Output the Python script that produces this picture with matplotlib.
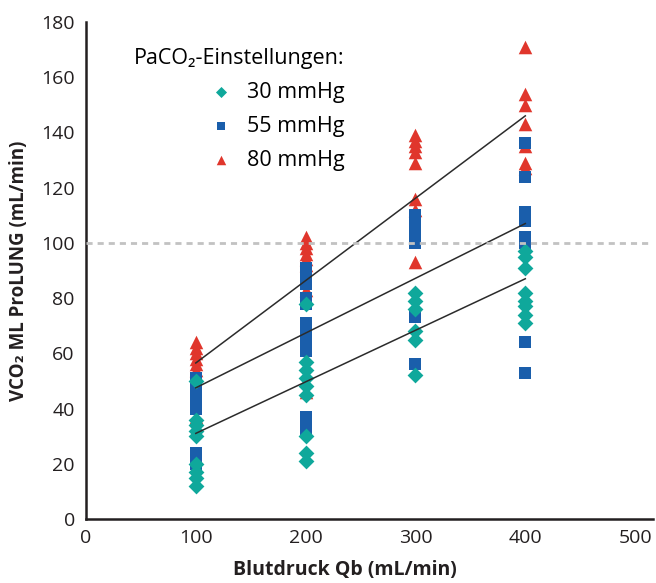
import matplotlib
matplotlib.use("Agg")
import matplotlib.pyplot as plt

plt.rcParams['font.family'] = ['Open Sans', 'DejaVu Sans']

# Blood flow settings (x) and measured VCO2 per PaCO2 setting
flows = [100, 200, 300, 400]

vco2_30 = {
    100: [50, 36, 34, 32, 30, 20, 17, 15, 12],
    200: [78, 57, 54, 51, 48, 45, 30, 24, 21],
    300: [82, 79, 76, 68, 65, 52],
    400: [97, 95, 91, 82, 79, 77, 74, 71],
}
vco2_55 = {
    100: [51, 49, 47, 45, 43, 41, 40, 24, 22, 20],
    200: [91, 89, 87, 85, 80, 78, 71, 69, 67, 65, 63, 61, 37, 35, 33, 32],
    300: [110, 108, 106, 104, 101, 100, 73, 56],
    400: [136, 124, 111, 108, 102, 100, 64, 53],
}
vco2_80 = {
    100: [64, 62, 60, 58, 56, 54, 37],
    200: [102, 100, 98, 96, 94, 92, 83, 46],
    300: [139, 137, 135, 133, 129, 116, 112, 93],
    400: [171, 154, 150, 143, 135, 129, 127],
}

# trend line values at x = 100 and x = 400
trend_x = [100, 400]
trend_30 = [31, 87]
trend_55 = [47.5, 107]
trend_80 = [56.5, 146]

ref_level = 100
labels = ['30 mmHg', '55 mmHg', '80 mmHg']
colors = ['#0fa89b', '#1a5eab', '#e0362c']

fig = plt.figure(figsize=(6.56, 5.83), dpi=100)
ax = fig.add_axes([0.131, 0.1098, 0.864, 0.8525])

def flat(d):
    xs, ys = [], []
    for k in flows:
        xs += [k] * len(d[k])
        ys += d[k]
    return xs, ys

x80, y80 = flat(vco2_80)
x55, y55 = flat(vco2_55)
x30, y30 = flat(vco2_30)
ax.scatter(x80, y80, marker='^', s=95, color=colors[2], linewidths=0, zorder=2, label=labels[2])
ax.scatter(x55, y55, marker='s', s=85, color=colors[1], linewidths=0, zorder=3, label=labels[1])
ax.scatter(x30, y30, marker='D', s=65, color=colors[0], linewidths=0, zorder=4, label=labels[0])

for t in [trend_30, trend_55, trend_80]:
    ax.plot(trend_x, t, color='#2b2b2b', lw=1.1, zorder=5)

ax.axhline(ref_level, color='#c2c2c2', lw=2.0, ls=(0, (2.2, 1.8)), zorder=6)

ax.set_xlim(0, 516)
ax.set_ylim(0, 180)
ax.set_xticks([0, 100, 200, 300, 400, 500])
ax.set_yticks(range(0, 181, 20))
ax.tick_params(length=0, labelsize=14, colors='#231f20')
ax.tick_params(axis='x', pad=7)
ax.tick_params(axis='y', pad=8)
for s in ['top', 'right']:
    ax.spines[s].set_visible(False)
for s in ['left', 'bottom']:
    ax.spines[s].set_color('#231f20')
    ax.spines[s].set_linewidth(1.8)

ax.set_xlabel('Blutdruck Qb (mL/min)', fontsize=14, fontweight='bold', color='#231f20')
ax.set_ylabel('VCO₂ ML ProLUNG (mL/min)', fontsize=13.5, fontweight='bold', color='#231f20')
ax.xaxis.set_label_coords(0.457, -0.083)
ax.yaxis.set_label_coords(-0.101, 0.5)

h, l = ax.get_legend_handles_labels()
order = [2, 1, 0]
leg = ax.legend([h[i] for i in order], [l[i] for i in order], title='PaCO₂-Einstellungen:',
                loc='upper right', bbox_to_anchor=(0.457, 0.948), frameon=False, fontsize=15.5,
                title_fontsize=15.5, handletextpad=0.2, labelspacing=0.6, markerscale=0.7,
                alignment='right', borderaxespad=0, borderpad=0)
fig.savefig('out.png', dpi=100)
